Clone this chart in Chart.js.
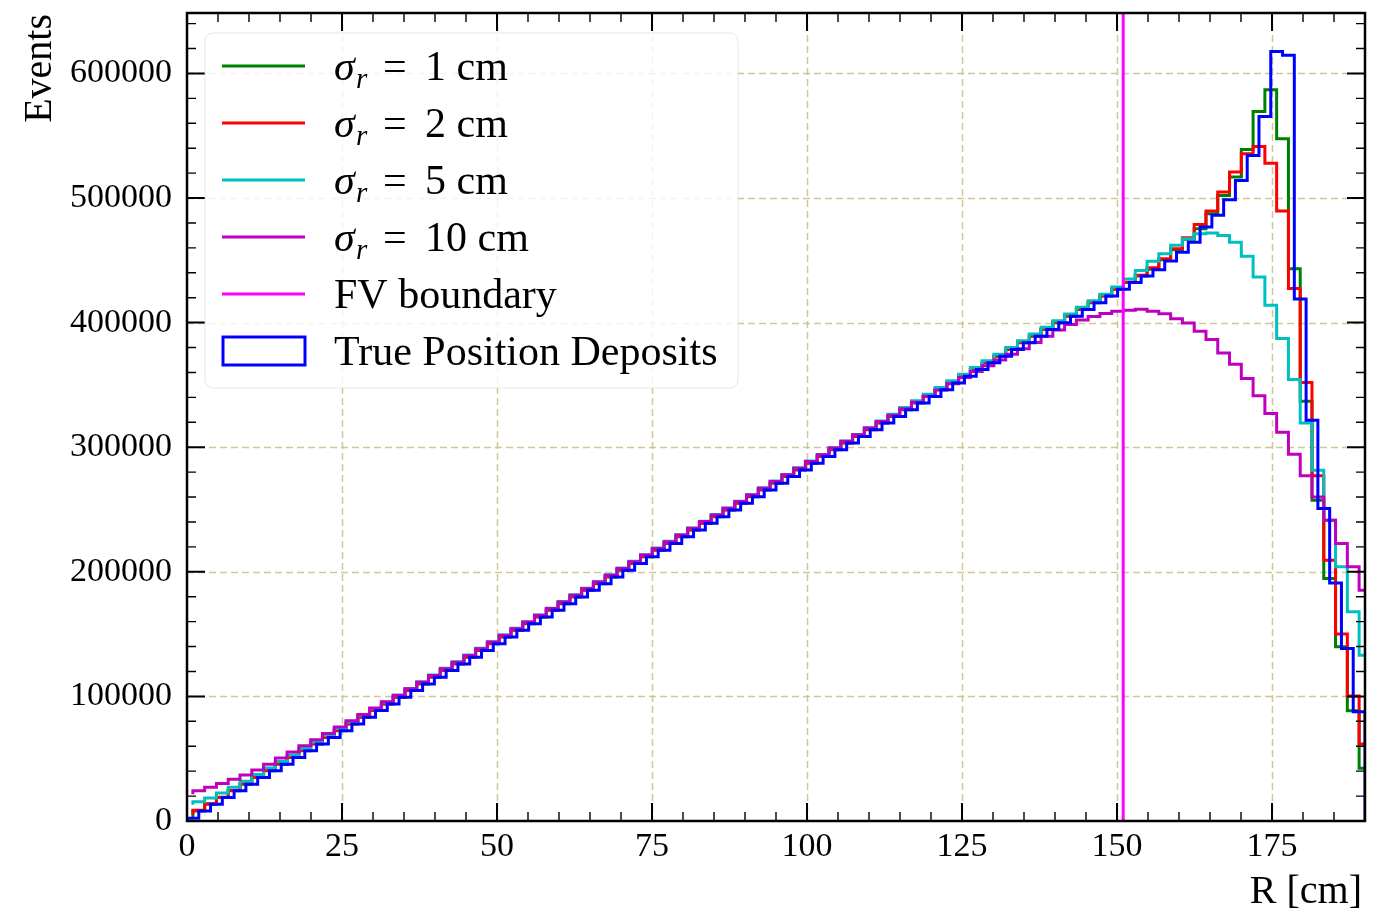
<!DOCTYPE html>
<html>
<head>
<meta charset="utf-8">
<title>Reconstructed radius of deposits</title>
<script src="https://cdn.jsdelivr.net/npm/chart.js@4.4.0/dist/chart.umd.min.js"></script>
<style>
  html, body { margin: 0; padding: 0; background: #fff; }
  #wrap { width: 1383px; height: 914px; }
</style>
</head>
<body>
<div id="wrap"><canvas id="chart" width="1383" height="914"></canvas></div>
<script>
// binning: 100 bins of 1.9 cm between 0 and 190 cm
const BIN_WIDTH = 1.9;
const R_MAX = 190;
const Y_MAX = 648500;
const FV_R = 151;

const xTicks = [0, 25, 50, 75, 100, 125, 150, 175];
const yTicks = [0, 100000, 200000, 300000, 400000, 500000, 600000];
const X_MINOR = 5;
const Y_MINOR = 20000;

// true position deposits, one value per bin
const trueCounts = [
  2200, 8100, 13400, 18800, 24200, 29500, 34900, 40300, 45600, 51000,
  56400, 61700, 67100, 72500, 77800, 83200, 88600, 93900, 99300, 104700,
  110000, 115400, 120800, 126100, 131500, 136900, 142200, 147600, 153000, 158300,
  163700, 169100, 174400, 179800, 185200, 190500, 195900, 201300, 206700, 212000,
  217400, 222800, 228100, 233500, 238900, 244200, 249600, 255000, 260300, 265700,
  271100, 276400, 281800, 287200, 292500, 297900, 303300, 308600, 314000, 319400,
  324700, 330100, 335500, 340800, 346200, 351600, 356900, 362300, 367700, 373000,
  378400, 383800, 389100, 394500, 399900, 405200, 410600, 416000, 421300, 426700,
  432100, 437400, 442500, 449500, 456500, 464600, 476700, 486100, 498700, 514100,
  534200, 565500, 617600, 614600, 419000, 321600, 250800, 191100, 138500, 87700
];

// smeared reconstructions, drawn as steps through the bin centres
const smear1cm = [
  3200, 8100, 13400, 18800, 24200, 29500, 34900, 40300, 45600, 51000,
  56400, 61700, 67100, 72500, 77800, 83200, 88600, 93900, 99300, 104700,
  110000, 115400, 120800, 126100, 131500, 136900, 142200, 147600, 153000, 158300,
  163700, 169100, 174400, 179800, 185200, 190500, 195900, 201300, 206700, 212000,
  217400, 222800, 228100, 233500, 238900, 244200, 249600, 255000, 260300, 265700,
  271100, 276400, 281800, 287200, 292500, 297900, 303300, 308600, 314000, 319400,
  324700, 330100, 335500, 340800, 346200, 351600, 356900, 362300, 367700, 373000,
  378400, 383800, 389100, 394500, 399900, 405200, 410600, 416000, 421300, 426700,
  432100, 437400, 442800, 450500, 458500, 467000, 475400, 487400, 502100, 516800,
  539000, 569500, 586900, 547600, 443300, 336900, 257500, 194700, 139800, 88500,
  42300
];

const smear2cm = [
  5000, 8600, 13900, 19100, 24500, 29800, 35200, 40600, 45900, 51300,
  56700, 62000, 67400, 72800, 78100, 83500, 88900, 94200, 99600, 105000,
  110300, 115700, 121100, 126400, 131800, 137200, 142500, 147900, 153300, 158600,
  164000, 169400, 174700, 180100, 185500, 190800, 196200, 201600, 207000, 212300,
  217700, 223100, 228400, 233800, 239200, 244500, 249900, 255300, 260600, 266000,
  271400, 276700, 282100, 287500, 292800, 298200, 303600, 308900, 314300, 319700,
  325000, 330400, 335800, 341100, 346500, 351900, 357200, 362600, 368000, 373300,
  378700, 384100, 389400, 394800, 400200, 405500, 410900, 416300, 421600, 427000,
  432500, 438000, 444000, 451300, 459300, 468100, 478800, 489500, 504800, 520800,
  535500, 541400, 528000, 489500, 427300, 351900, 277000, 209300, 150000, 100300,
  61800
];

const smear5cm = [
  13000, 15500, 18500, 22500, 27000, 32000, 37300, 42600, 47800, 53000,
  58200, 63400, 68800, 74200, 79500, 84900, 90300, 95600, 101000, 106400,
  111700, 117100, 122500, 127800, 133200, 138600, 143900, 149300, 154700, 160000,
  165400, 170800, 176100, 181500, 186900, 192200, 197600, 203000, 208400, 213700,
  219100, 224500, 229800, 235200, 240600, 245900, 251300, 256700, 262000, 267400,
  272800, 278100, 283500, 288900, 294200, 299600, 305000, 310300, 315700, 321100,
  326400, 331800, 337200, 342500, 347900, 353300, 358600, 364000, 369400, 374700,
  380100, 385500, 390800, 396200, 401600, 406900, 412300, 417500, 422800, 428600,
  435000, 441900, 449200, 455300, 462000, 467400, 471400, 472000, 470000, 464600,
  453200, 436600, 413900, 387200, 354300, 319500, 281500, 241400, 204000, 167900,
  133000
];

const smear10cm = [
  21500, 24300, 27000, 30000, 33500, 37000, 41000, 45500, 50500, 55300,
  60300, 65300, 70300, 75400, 80400, 85500, 90700, 95800, 101000, 106200,
  111400, 116800, 122200, 127500, 132900, 138300, 143600, 149000, 154400, 159700,
  165100, 170500, 175800, 181200, 186600, 191900, 197300, 202700, 208100, 213400,
  218800, 224200, 229500, 234900, 240300, 245600, 251000, 256400, 261700, 267100,
  272500, 277800, 283200, 288600, 293900, 299300, 304700, 310000, 315400, 320600,
  325700, 330900, 336000, 341000, 346000, 351000, 355900, 360700, 365400, 370000,
  374600, 379100, 384000, 389000, 394000, 398500, 402200, 405000, 407300, 409100,
  409900, 410700, 409100, 407200, 403200, 399700, 393000, 386400, 375600, 366600,
  355100, 341400, 327000, 312000, 294400, 277000, 260000, 241400, 222700, 204000,
  185300
];

const SERIF = '"Liberation Serif", "DejaVu Serif", serif';
const GRID_COLOUR = "rgba(200, 190, 135, 0.85)";
const LINE_W = 3;

function centreSteps(counts) {
  return counts.map((v, k) => ({ x: (k + 0.5) * BIN_WIDTH, y: v }));
}

const histPoints = [{ x: 0, y: 0 }]
  .concat(trueCounts.map((v, i) => ({ x: i * BIN_WIDTH, y: v })))
  .concat([{ x: trueCounts.length * BIN_WIDTH, y: 0 }]);

function smearSet(sigma, counts, colour, order) {
  return {
    label: "sigma " + sigma,
    sigma: sigma,
    data: centreSteps(counts),
    borderColor: colour,
    borderWidth: LINE_W,
    stepped: "after",
    pointRadius: 0,
    fill: false,
    order: order,
    clip: 0,
  };
}

const datasets = [
  smearSet(1, smear1cm, "#008000", 6),
  smearSet(2, smear2cm, "#ff0000", 5),
  smearSet(5, smear5cm, "#00bfbf", 4),
  smearSet(10, smear10cm, "#bf00bf", 3),
  {
    label: "FV boundary",
    data: [{ x: FV_R, y: 0 }, { x: FV_R, y: Y_MAX }],
    borderColor: "#ff00ff",
    borderWidth: LINE_W,
    pointRadius: 0,
    fill: false,
    order: 2,
    clip: 0,
  },
  {
    label: "True Position Deposits",
    box: true,
    data: histPoints,
    borderColor: "#0000ff",
    borderWidth: LINE_W,
    stepped: true,
    pointRadius: 0,
    fill: false,
    order: 1,
    clip: 0,
  },
];

// grid, inward ticks, frame, legend and axis titles
const decorations = {
  id: "decorations",
  beforeDatasetsDraw(chart) {
    const { ctx, chartArea: a, scales } = chart;
    ctx.save();
    ctx.strokeStyle = GRID_COLOUR;
    ctx.lineWidth = 1.5;
    ctx.setLineDash([7, 4]);
    xTicks.forEach((v) => {
      if (v === 0) return;
      const px = Math.round(scales.x.getPixelForValue(v)) + 0.5;
      ctx.beginPath();
      ctx.moveTo(px, a.top);
      ctx.lineTo(px, a.bottom);
      ctx.stroke();
    });
    yTicks.forEach((v) => {
      if (v === 0) return;
      const py = Math.round(scales.y.getPixelForValue(v)) + 0.5;
      ctx.beginPath();
      ctx.moveTo(a.left, py);
      ctx.lineTo(a.right, py);
      ctx.stroke();
    });
    ctx.restore();
  },
  afterDatasetsDraw(chart) {
    const { ctx, chartArea: a, scales } = chart;
    ctx.save();
    ctx.strokeStyle = "#000";

    // x ticks on bottom and top
    for (let i = 0; i * X_MINOR <= R_MAX; i++) {
      const v = i * X_MINOR;
      const major = xTicks.includes(v);
      const len = major ? 18 : 9;
      const px = scales.x.getPixelForValue(v);
      ctx.lineWidth = major ? 2 : 1.4;
      ctx.beginPath();
      ctx.moveTo(px, a.bottom);
      ctx.lineTo(px, a.bottom - len);
      ctx.moveTo(px, a.top);
      ctx.lineTo(px, a.top + len);
      ctx.stroke();
    }
    // y ticks on left and right
    for (let i = 0; i * Y_MINOR <= Y_MAX; i++) {
      const v = i * Y_MINOR;
      const major = yTicks.includes(v);
      const len = major ? 18 : 9;
      const py = scales.y.getPixelForValue(v);
      ctx.lineWidth = major ? 2 : 1.4;
      ctx.beginPath();
      ctx.moveTo(a.left, py);
      ctx.lineTo(a.left + len, py);
      ctx.moveTo(a.right, py);
      ctx.lineTo(a.right - len, py);
      ctx.stroke();
    }
    ctx.lineWidth = 2.5;
    ctx.strokeRect(a.left, a.top, a.right - a.left, a.bottom - a.top);

    // legend
    ctx.beginPath();
    ctx.roundRect(205, 33, 533, 355, 8);
    ctx.fillStyle = "rgba(255,255,255,0.8)";
    ctx.fill();
    ctx.lineWidth = 1;
    ctx.strokeStyle = "rgba(220,220,220,0.7)";
    ctx.stroke();

    chart.data.datasets.forEach((ds, i) => {
      const cy = 66 + i * 57;
      const base = cy + 14;
      ctx.strokeStyle = ds.borderColor;
      ctx.lineWidth = LINE_W;
      if (ds.box) {
        ctx.strokeRect(223, cy - 14, 82, 28);
      } else {
        ctx.beginPath();
        ctx.moveTo(222, cy);
        ctx.lineTo(305, cy);
        ctx.stroke();
      }
      ctx.fillStyle = "#000";
      ctx.textAlign = "left";
      ctx.textBaseline = "alphabetic";
      if (ds.sigma !== undefined) {
        ctx.font = "italic 42px " + SERIF;
        ctx.fillText("σ", 334, base);
        ctx.font = "italic 29px " + SERIF;
        ctx.fillText("r", 356, base + 8);
        ctx.font = "42px " + SERIF;
        ctx.fillText("=", 383, base);
        ctx.fillText(ds.sigma + " cm", 425, base);
      } else {
        ctx.font = "42px " + SERIF;
        ctx.fillText(ds.label, 334, base);
      }
    });

    // axis titles
    ctx.fillStyle = "#000";
    ctx.font = "40px " + SERIF;
    ctx.textAlign = "right";
    ctx.textBaseline = "alphabetic";
    ctx.fillText("R [cm]", 1362, 903);
    ctx.translate(51, 14);
    ctx.rotate(-Math.PI / 2);
    ctx.fillText("Events", 0, 0);
    ctx.restore();
  },
};

new Chart(document.getElementById("chart"), {
  type: "line",
  data: { datasets: datasets },
  options: {
    responsive: false,
    animation: false,
    devicePixelRatio: 1,
    events: [],
    layout: { padding: { left: 0, right: 18, top: 13, bottom: 0 } },
    plugins: { legend: { display: false }, tooltip: { enabled: false } },
    scales: {
      x: {
        type: "linear",
        min: 0,
        max: R_MAX,
        grid: { display: false, drawTicks: false },
        border: { display: false },
        ticks: {
          color: "#000",
          font: { family: SERIF, size: 34 },
          padding: 6,
          maxRotation: 0,
          autoSkip: false,
          callback: (v) => String(v),
        },
        afterBuildTicks: (s) => {
          s.ticks = xTicks.map((v) => ({ value: v }));
        },
        afterFit: (s) => {
          s.height = 93;
          s.paddingLeft = 0;
          s.paddingRight = 0;
        },
      },
      y: {
        type: "linear",
        min: 0,
        max: Y_MAX,
        grid: { display: false, drawTicks: false },
        border: { display: false },
        ticks: {
          color: "#000",
          font: { family: SERIF, size: 34 },
          padding: 15,
          autoSkip: false,
          callback: (v) => String(v),
        },
        afterBuildTicks: (s) => {
          s.ticks = yTicks.map((v) => ({ value: v }));
        },
        afterFit: (s) => {
          s.width = 187;
          s.paddingTop = 0;
          s.paddingBottom = 0;
        },
      },
    },
  },
  plugins: [decorations],
});
</script>
</body>
</html>
